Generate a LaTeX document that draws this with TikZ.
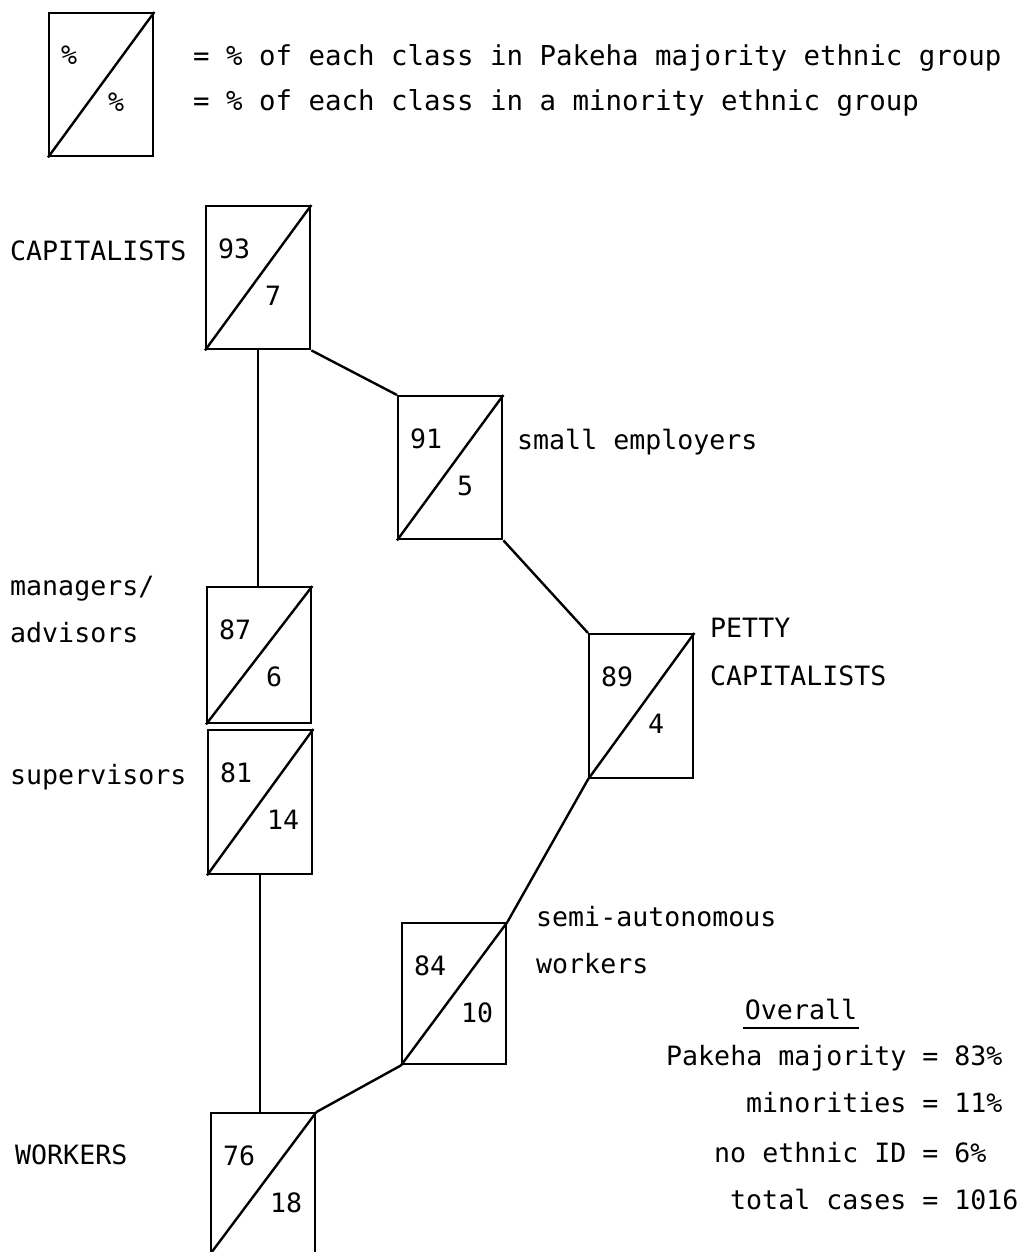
\documentclass[tikz,border=0pt]{standalone}
\usepackage{fontspec}
\setmainfont{DejaVu Sans Mono}
\usetikzlibrary{calc}
\newcommand\clsbox[6]{%
  \node[cls, minimum height=#4pt, anchor=north west] (#1) at (#2,#3) {};
  \draw[ln] (#1.south west) -- (#1.north east);
  \node[txt, anchor=west] (#1-maj) at ($(#1.north west)+(13,46)$) {#5};
  \node[txt, anchor=west] (#1-min) at ($(#1.north west)+(60,93)$) {#6};}
\begin{document}
\begin{tikzpicture}[x=1pt,y=-1pt,
  txt/.style={font=\fontsize{26.6}{30}\selectfont, inner sep=0pt, text height=19pt, text depth=5pt},
  cls/.style={draw, line width=2.4pt, minimum width=104pt, inner sep=0pt},
  ln/.style={line width=2.4pt},
  lbl/.style={txt, anchor=west},
  leglbl/.style={lbl, font=\fontsize{27.4}{30}\selectfont}]
\useasboundingbox (0,0) rectangle (1018,1252);
\clip (0,0) rectangle (1018,1252);
% legend
\clsbox{leg}{48}{12}{143}{\%}{\%}
\node[leglbl] (legA) at (193,59) {= \% of each class in Pakeha majority ethnic group};
\node[leglbl] (legB) at (193,104) {= \% of each class in a minority ethnic group};
% class boxes
\clsbox{cap}{205}{205}{143}{93}{7}
\clsbox{sml}{397}{395}{143}{91}{5}
\clsbox{mgr}{206}{586}{136}{87}{6}
\clsbox{sup}{207}{729}{144}{81}{14}
\clsbox{pet}{588}{633}{144}{89}{4}
\clsbox{semi}{401}{922}{141}{84}{10}
\clsbox{wrk}{210}{1112}{140}{76}{18}
% labels
\node[lbl] (capL) at (10,253) {CAPITALISTS};
\node[lbl] (smlL) at (517,442) {small employers};
\node[lbl] (mgrL1) at (10,588) {managers/};
\node[lbl] (mgrL2) at (10,635) {advisors};
\node[lbl] (supL) at (10,777) {supervisors};
\node[lbl] (petL1) at (710,630) {PETTY};
\node[lbl] (petL2) at (710,678) {CAPITALISTS};
\node[lbl] (semiL1) at (536,919) {semi-autonomous};
\node[lbl] (semiL2) at (536,966) {workers};
\node[lbl] (wrkL) at (15,1157) {WORKERS};
% connectors
\draw[ln] (cap.south) -- (cap.south |- mgr.north);
\draw[ln] (sup.south) -- (sup.south |- wrk.north);
\draw[ln] (cap.south east) -- (sml.north west);
\draw[ln] (sml.south east) -- (pet.north west);
\draw[ln] (pet.south west) -- (semi.north east);
\draw[ln] (semi.south west) -- (wrk.north east);
% overall
\node[txt] (ov) at (801,1012) {Overall};
\draw[line width=1.8pt] ($(ov.south west)+(-2,4)$) -- ($(ov.south east)+(2,4)$);
\node[lbl] (ov1) at (666,1058) {Pakeha majority = 83\%};
\node[lbl] (ov2) at (746,1105) {minorities = 11\%};
\node[lbl] (ov3) at (714,1155) {no ethnic ID = 6\%};
\node[lbl] (ov4) at (730,1202) {total cases = 1016};
\end{tikzpicture}
\end{document}
